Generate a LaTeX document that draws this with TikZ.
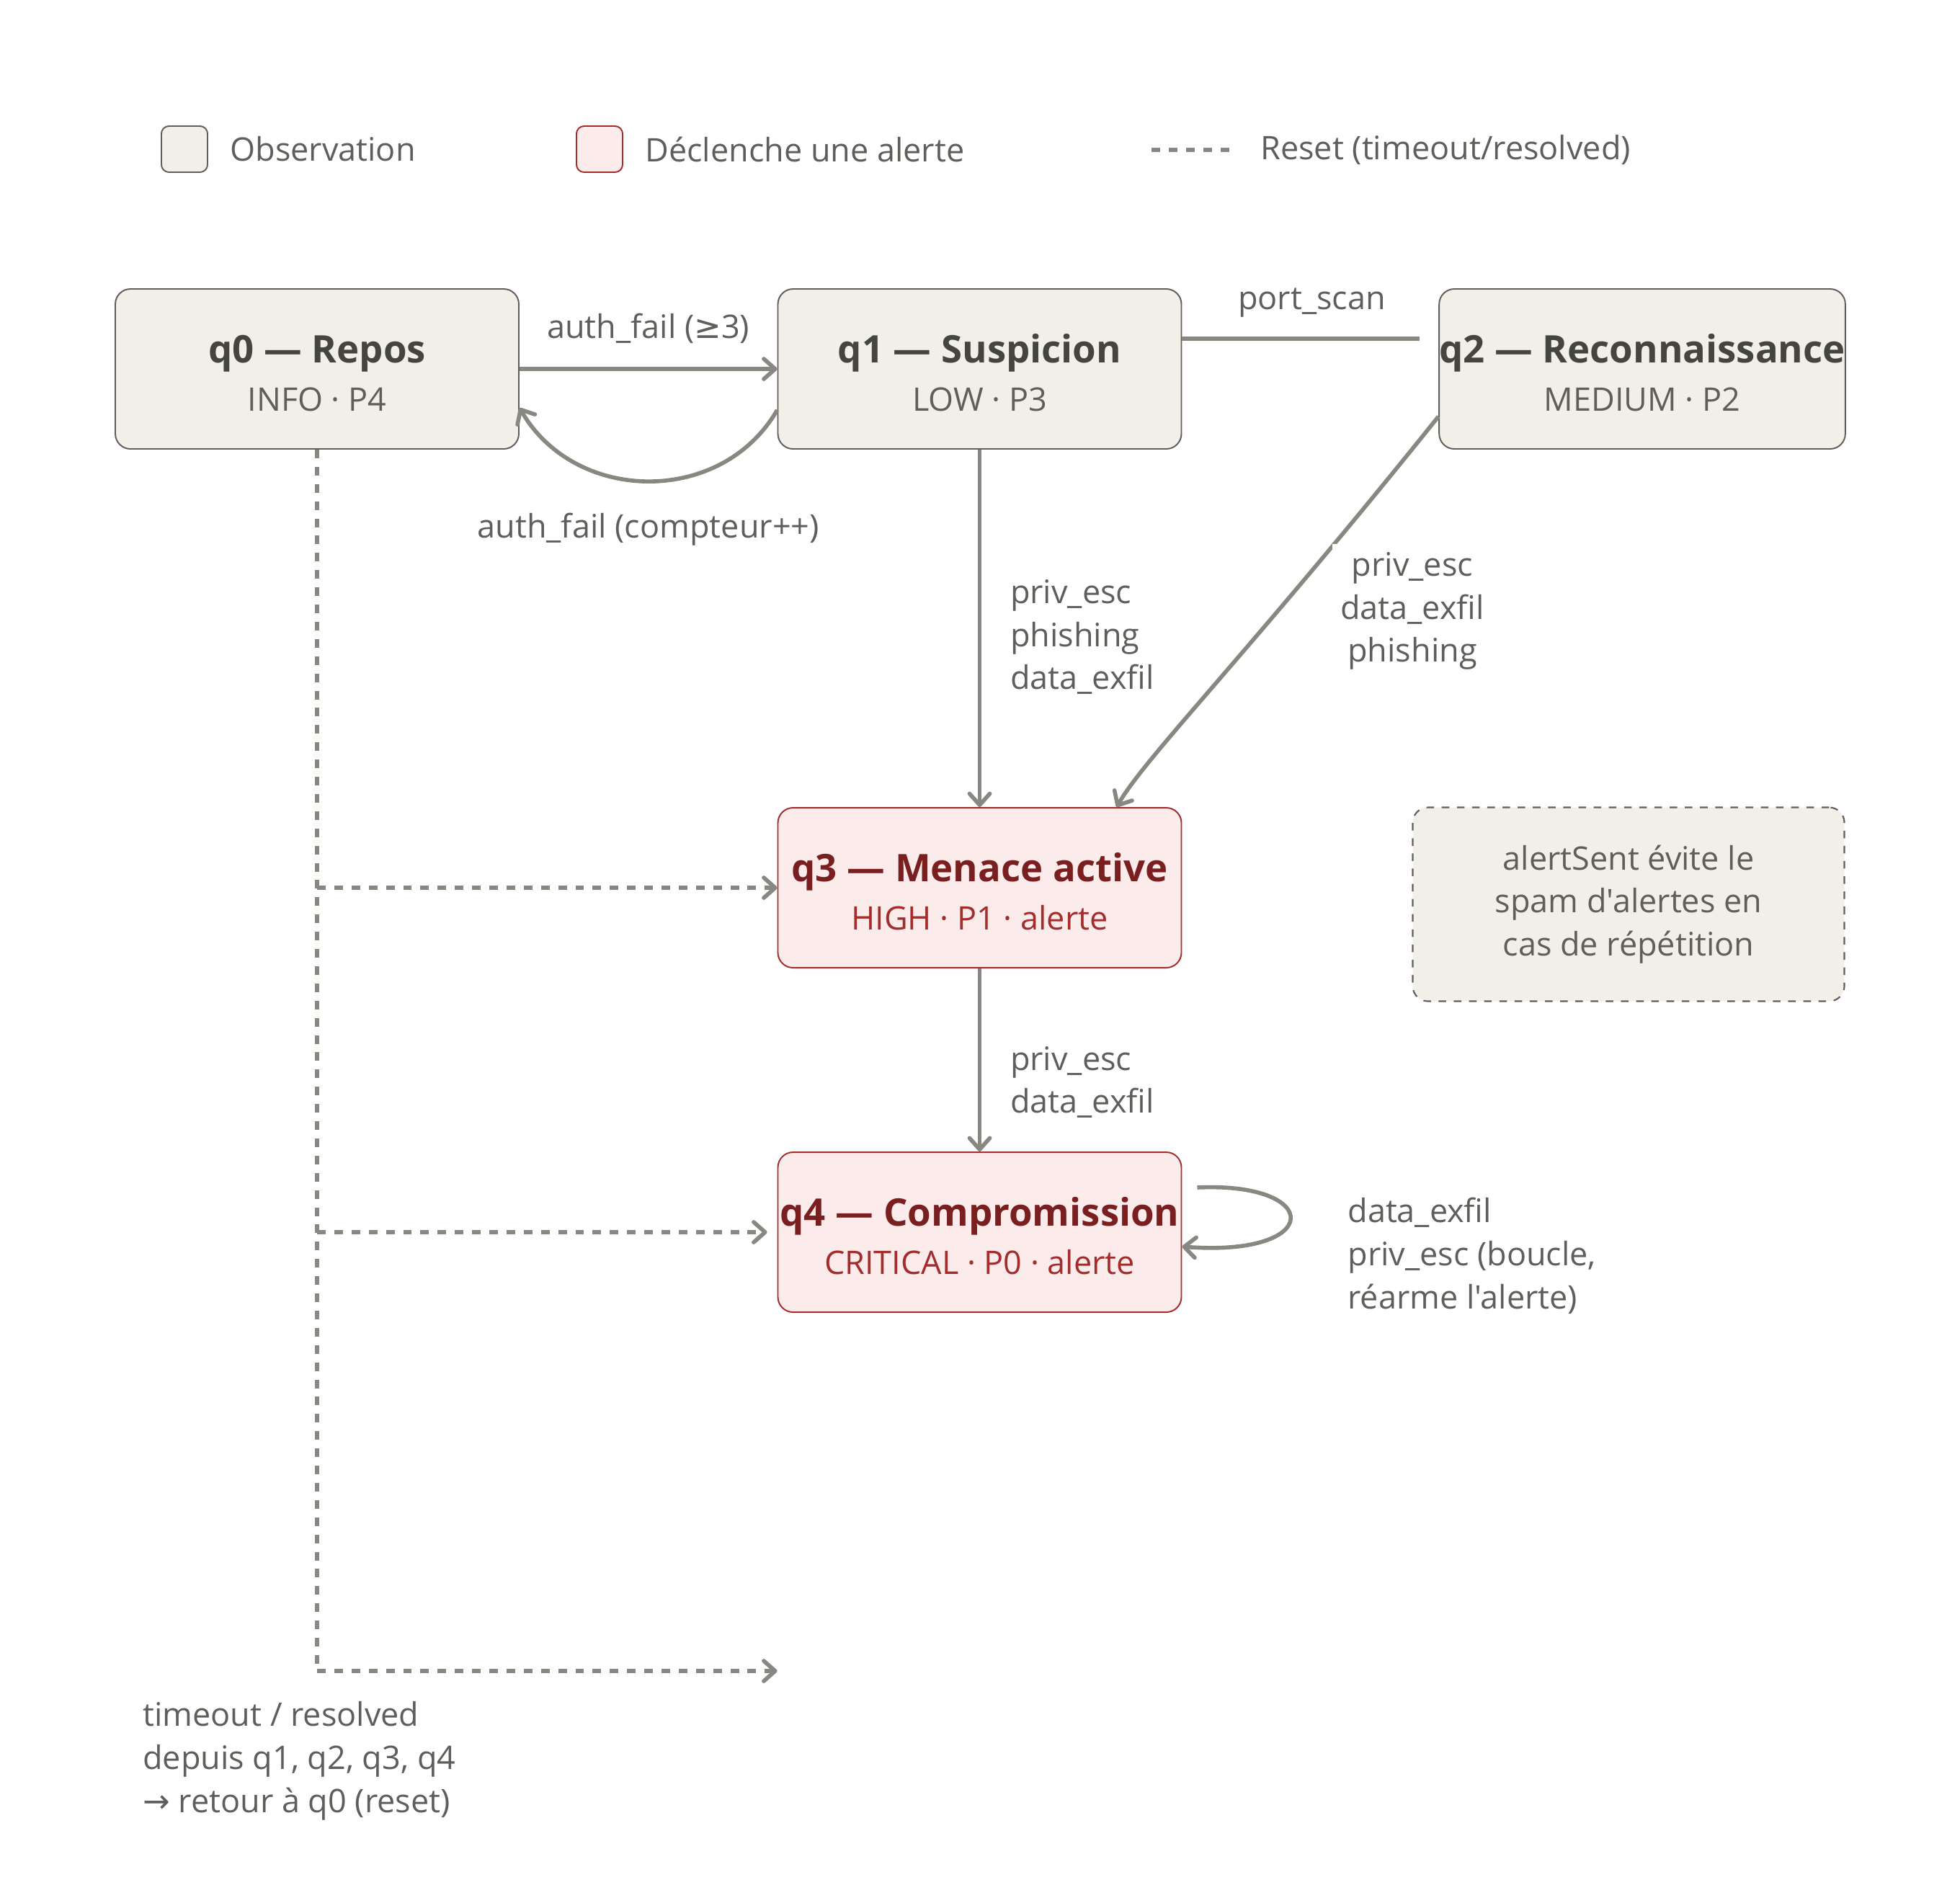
\documentclass[tikz,border=0pt]{standalone}
\usepackage{fontspec}
\usepackage{xcolor}
\usepackage{tikz}
\usetikzlibrary{arrows.meta}
\newfontfamily\uifont{Open Sans}
\newfontfamily\symfont{DejaVu Sans}
\definecolor{obsfill}{HTML}{F1EFE8}
\definecolor{obsline}{HTML}{5F5E5A}
\definecolor{obstext}{HTML}{444441}
\definecolor{alfill}{HTML}{FCEBEB}
\definecolor{alline}{HTML}{A32D2D}
\definecolor{altext}{HTML}{791F1F}
\definecolor{edgecol}{HTML}{888780}
\definecolor{lbltext}{HTML}{5F5E5A}
\newcommand{\lblfont}{\uifont\fontsize{12.8}{17}\selectfont}
\newcommand{\statelabel}[3]{{\color{#1}\bfseries\fontsize{15}{18}\selectfont\rule{0pt}{14.5pt}#2}\\[2pt]#3}

\begin{document}
\begin{tikzpicture}[node distance=9.195cm,
  >={Straight Barb[length=4.5pt,width=8pt,round]},
  obs/.style={draw=obsline, fill=obsfill, text=obsline, rounded corners=6pt, line width=0.55pt,
    minimum width=5.6cm, minimum height=2.22cm, inner sep=0pt, align=center, font=\lblfont},
  alert/.style={obs, draw=alline, fill=alfill, text=alline},
  swatch/.style={minimum width=0.64cm, minimum height=0.64cm, rounded corners=3pt},
  memo/.style={draw=obsline, fill=obsfill, text=lbltext, dashed, line width=0.6pt, rounded corners=6pt,
    minimum width=5.99cm, minimum height=2.69cm, align=center, font=\lblfont},
  edge/.style={draw=edgecol, line width=1.6pt},
  reset/.style={edge, dash pattern=on 3.4pt off 3.4pt},
  lbl/.style={text=lbltext, font=\lblfont, align=left}]
\useasboundingbox (0,0) rectangle (27.2,-26.4);

% legende
\node[obs, swatch] (kobs) at (2.56,-2.07) {};
\node[lbl, anchor=west] (tobs) at ([xshift=0.18cm] kobs.east) {Observation};
\node[alert, swatch] (kal) at (8.32,-2.07) {};
\node[lbl, anchor=west] (tal) at ([xshift=0.18cm] kal.east) {Déclenche une alerte};
\coordinate (kr0) at (15.98,-2.08);
\coordinate (kr1) at (17.09,-2.08);
\draw[reset] (kr0) -- (kr1);
\node[lbl, anchor=west] (treset) at ([xshift=0.28cm] kr1) {Reset (timeout/resolved)};

% etats
\node[obs] (q0) at (4.40,-5.12) {\statelabel{obstext}{q0 — Repos}{INFO · P4}};
\node[obs, right of=q0] (q1) {\statelabel{obstext}{q1 — Suspicion}{LOW · P3}};
\node[obs, right of=q1] (q2) {\statelabel{obstext}{q2 — Reconnaissance}{MEDIUM · P2}};
\node[alert, below of=q1, yshift=1.995cm] (q3) {\statelabel{altext}{q3 — Menace active}{HIGH · P1 · alerte}};
\node[alert, below of=q3, yshift=4.415cm] (q4) {\statelabel{altext}{q4 — Compromission}{CRITICAL · P0 · alerte}};
\node[memo] (note) at (22.60,-12.55) {alertSent évite le\\spam d'alertes en\\cas de répétition};

% transitions
\draw[edge, ->] (q0) -- (q1) node[midway, lbl, yshift=0.56cm] {auth\_fail ({\symfont ≥}3)};
\draw[edge, ->] ([yshift=-0.57cm] q1.west) to[out=240, in=-60, looseness=1.1]
  node[midway, lbl, yshift=-0.67cm] {auth\_fail (compteur++)} ([yshift=-0.54cm] q0.east);
\coordinate (q2in) at ([xshift=-0.26cm, yshift=0.42cm] q2.west);
\draw[edge] ([yshift=0.42cm] q1.east) -- (q2in) node[midway, lbl, xshift=0.15cm, yshift=0.5cm] {port\_scan};
\draw[edge, ->] (q1) -- (q3) node[midway, lbl, anchor=west, xshift=0.28cm, yshift=-0.12cm] {priv\_esc\\phishing\\data\_exfil};
\draw[edge, ->] ([yshift=-0.66cm] q2.west) .. controls (17.3,-9.1) and (15.9,-10.5) .. ([xshift=1.9cm] q3.north);
\node[lbl, fill=white, align=center] (l23) at (19.60,-8.48) {priv\_esc\\data\_exfil\\phishing};
\draw[edge, ->] (q3) -- (q4) node[midway, lbl, anchor=west, xshift=0.28cm, yshift=-0.31cm] {priv\_esc\\data\_exfil};
\draw[edge, ->] ([xshift=0.21cm, yshift=0.62cm] q4.east) .. controls (18.37,-16.40) and (18.37,-17.45) .. ([yshift=-0.2cm] q4.east);
\node[lbl, anchor=west] (l44) at (18.58,-17.43) {data\_exfil\\priv\_esc (boucle,\\réarme l'alerte)};

% reset
\coordinate (rbot) at ([yshift=-16.95cm] q0.south);
\coordinate (rend) at (q1.west |- rbot);
\draw[reset] (q0.south) -- (rbot);
\draw[reset, ->] (q0.south |- q3.west) -- (q3.west);
\draw[reset, ->] (q0.south |- q4.west) -- ([xshift=-0.14cm] q4.west);
\draw[reset, ->] (rbot) -- (rend);
\node[lbl, anchor=west] (rlbl) at (1.86,-24.44) {timeout / resolved\\depuis q1, q2, q3, q4\\{\symfont →} retour à q0 (reset)};
\end{tikzpicture}
\end{document}
